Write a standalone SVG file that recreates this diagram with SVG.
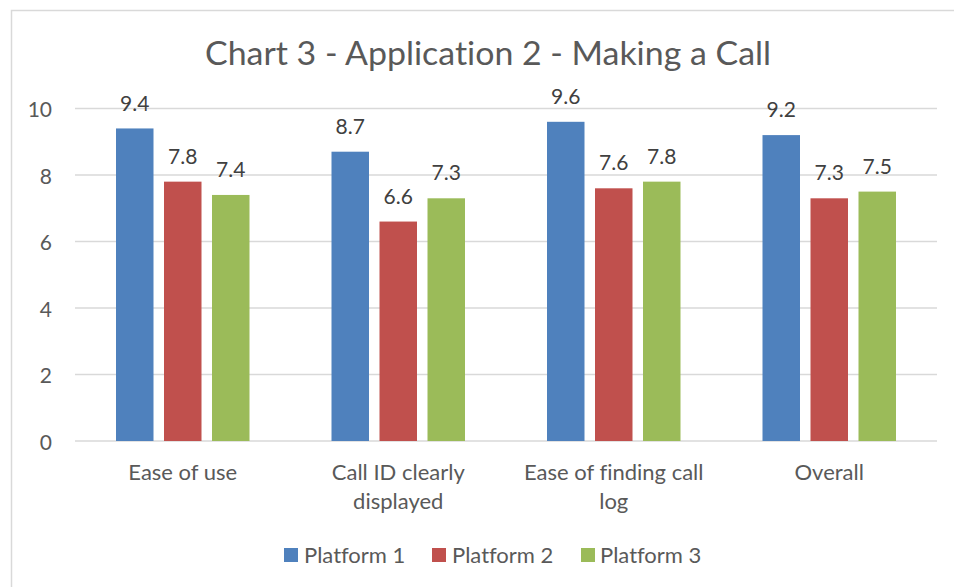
<svg xmlns="http://www.w3.org/2000/svg" width="954" height="587" viewBox="0 0 954 587">
  <style>
    text { font-family: Lato, "Open Sans", "Liberation Sans", sans-serif; fill: #595959; font-variant-ligatures: none; }
    .title { font-size: 32px; text-anchor: middle; }
    .tick { font-size: 21px; text-anchor: end; }
    .cat { font-size: 22px; text-anchor: middle; }
    .val { font-size: 21px; text-anchor: middle; fill: #404040; }
    .leg { font-size: 22px; }
    .grid { stroke: #d9d9d9; stroke-width: 1.3; }
    .p1 { fill: #4f81bd; }
    .p2 { fill: #c0504d; }
    .p3 { fill: #9bbb59; }
  </style>

  <rect x="0" y="0" width="954" height="587" fill="#ffffff"/>
  <!-- chart frame -->
  <path d="M11.5 587 V10.5 H954" fill="none" stroke="#d9d9d9" stroke-width="1.5"/>

  <text class="title" x="488" y="65" textLength="566" lengthAdjust="spacingAndGlyphs">Chart 3 - Application 2 - Making a Call</text>

  <!-- value axis gridlines -->
  <g id="gridlines">
    <line class="grid" x1="75" y1="108.5" x2="937" y2="108.5"/>
    <line class="grid" x1="75" y1="175" x2="937" y2="175"/>
    <line class="grid" x1="75" y1="241.5" x2="937" y2="241.5"/>
    <line class="grid" x1="75" y1="308" x2="937" y2="308"/>
    <line class="grid" x1="75" y1="374.5" x2="937" y2="374.5"/>
    <line class="grid" x1="75" y1="441" x2="937" y2="441"/>
  </g>
  <g id="value-axis">
    <text class="tick" x="52" y="117">10</text>
    <text class="tick" x="52" y="183.5">8</text>
    <text class="tick" x="52" y="250">6</text>
    <text class="tick" x="52" y="316.5">4</text>
    <text class="tick" x="52" y="383">2</text>
    <text class="tick" x="52" y="449.5">0</text>
  </g>

  <!-- Ease of use -->
  <g id="cat-ease-of-use">
    <rect class="p1" x="116" y="128.45" width="37.5" height="312.55"/>
    <rect class="p2" x="164" y="181.65" width="37.5" height="259.35"/>
    <rect class="p3" x="212" y="194.95" width="37.5" height="246.05"/>
    <text class="val" x="134.75" y="110.5">9.4</text>
    <text class="val" x="182.75" y="163.5">7.8</text>
    <text class="val" x="230.75" y="177">7.4</text>
    <text class="cat" x="182.75" y="480">Ease of use</text>
  </g>

  <!-- Call ID clearly displayed -->
  <g id="cat-call-id">
    <rect class="p1" x="331.5" y="151.7" width="37.5" height="289.3"/>
    <rect class="p2" x="379.5" y="221.55" width="37.5" height="219.45"/>
    <rect class="p3" x="427.5" y="198.3" width="37.5" height="242.7"/>
    <text class="val" x="350.25" y="133.5">8.7</text>
    <text class="val" x="398.25" y="203.5">6.6</text>
    <text class="val" x="446.25" y="180.3">7.3</text>
    <text class="cat" x="398.25" y="480">Call ID clearly</text>
    <text class="cat" x="398.25" y="509">displayed</text>
  </g>

  <!-- Ease of finding call log -->
  <g id="cat-call-log">
    <rect class="p1" x="547" y="121.8" width="37.5" height="319.2"/>
    <rect class="p2" x="595" y="188.3" width="37.5" height="252.7"/>
    <rect class="p3" x="643" y="181.65" width="37.5" height="259.35"/>
    <text class="val" x="565.75" y="103.8">9.6</text>
    <text class="val" x="613.75" y="170.3">7.6</text>
    <text class="val" x="661.75" y="163.6">7.8</text>
    <text class="cat" x="613.75" y="480">Ease of finding call</text>
    <text class="cat" x="613.75" y="509">log</text>
  </g>

  <!-- Overall -->
  <g id="cat-overall">
    <rect class="p1" x="762.5" y="135.1" width="37.5" height="305.9"/>
    <rect class="p2" x="810.5" y="198.3" width="37.5" height="242.7"/>
    <rect class="p3" x="858.5" y="191.6" width="37.5" height="249.4"/>
    <text class="val" x="781.25" y="117">9.2</text>
    <text class="val" x="829.25" y="180.3">7.3</text>
    <text class="val" x="877.25" y="173.6">7.5</text>
    <text class="cat" x="829.25" y="480">Overall</text>
  </g>

  <!-- legend -->
  <g id="legend">
    <rect class="p1" x="284" y="548" width="14" height="14"/>
    <text class="leg" x="304" y="563">Platform 1</text>
    <rect class="p2" x="432" y="548" width="14" height="14"/>
    <text class="leg" x="452" y="563">Platform 2</text>
    <rect class="p3" x="581" y="548" width="14" height="14"/>
    <text class="leg" x="600" y="563">Platform 3</text>
  </g>
</svg>
